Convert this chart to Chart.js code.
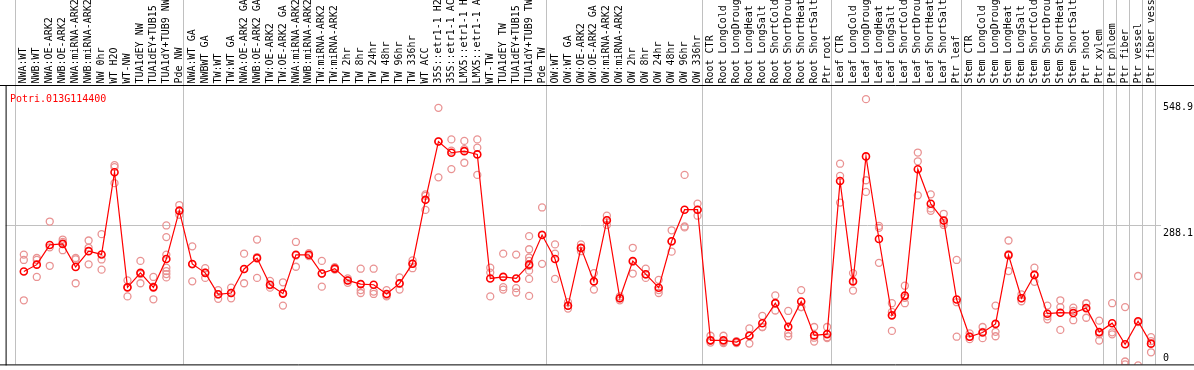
<!DOCTYPE html>
<html><head><meta charset="utf-8">
<script src="https://cdn.jsdelivr.net/npm/chart.js@4.4.1/dist/chart.umd.min.js"></script>
<style>html,body{margin:0;padding:0;background:#fff;overflow:hidden}canvas{display:block}</style>
</head><body>
<canvas id="c" width="1194" height="370"></canvas>
<script>
const geneName = 'Potri.013G114400';

const categories = [
  'NWA:WT','NWB:WT','NWA:OE-ARK2','NWB:OE-ARK2','NWA:miRNA-ARK2','NWB:miRNA-ARK2','NW 0hr','WT H2O','WT-NW',
  'TUA1dEY NW','TUA1dEY+TUB15','TUA1dY+TUB9 NW','Pde NW',
  'NWA:WT GA','NWBWT GA','TW:WT','TW:WT GA','NWA:OE-ARK2 GA','NWB:OE-ARK2 GA','TW:OE-ARK2','TW:OE-ARK2 GA',
  'NWA:miRNA-ARK2','NWB:miRNA-ARK2','TW:miRNA-ARK2','TW:miRNA-ARK2','TW 2hr','TW 8hr','TW 24hr','TW 48hr',
  'TW 96hr','TW 336hr','WT ACC','35S::etr1-1 H2','35S::etr1-1 AC','LMX5::etr1-1 H','LMX5::etr1-1 A','WT-TW',
  'TUA1dEY TW','TUA1dEY+TUB15','TUA1dY+TUB9 TW','Pde TW',
  'OW:WT','OW:WT GA','OW:OE-ARK2','OW:OE-ARK2 GA','OW:miRNA-ARK2','OW:miRNA-ARK2','OW 2hr','OW 8hr','OW 24hr',
  'OW 48hr','OW 96hr','OW 336hr',
  'Root CTR','Root LongCold','Root LongDroug','Root LongHeat','Root LongSalt','Root ShortCold','Root ShortDrou',
  'Root ShortHeat','Root ShortSalt','Ptr root',
  'Leaf CTR','Leaf LongCold','Leaf LongDroug','Leaf LongHeat','Leaf LongSalt','Leaf ShortCold','Leaf ShortDrou',
  'Leaf ShortHeat','Leaf ShortSalt','Ptr leaf',
  'Stem CTR','Stem LongCold','Stem LongDroug','Stem LongHeat','Stem LongSalt','Stem ShortCold','Stem ShortDrou',
  'Stem ShortHeat','Stem ShortSalt','Ptr shoot',
  'Ptr xylem','Ptr phloem','Ptr fiber','Ptr vessel','Ptr fiber vess'
];

const means = [
  194.1, 208.3, 248.9, 251.0, 203.6, 236.1, 229.3, 398.6, 161.6, 191.4, 161.6, 219.8, 319.4,
  209.7, 191.4, 147.3, 150.0, 199.5, 221.8, 167.0, 148.7, 228.6, 228.6, 190.0, 200.2, 175.8,
  168.3, 167.0, 148.0, 169.7, 210.3, 341.7, 461.6, 438.6, 441.9, 435.2, 179.9, 183.2, 179.9,
  208.3, 269.2,
  219.8, 123.6, 242.8, 173.8, 299.7, 139.2, 215.7, 188.7, 160.9, 256.4, 321.4, 321.4,
  52.5, 52.5, 49.1, 62.0, 87.8, 129.1, 80.3, 132.4, 62.7, 65.4,
  380.3, 173.8, 431.1, 261.1, 104.0, 144.6, 404.7, 333.6, 299.0, 136.5,
  60.0, 68.8, 86.4, 227.9, 139.2, 187.3, 107.4, 109.4, 108.8, 118.9,
  69.5, 87.8, 44.4, 91.8, 45.8
];

const replicates = [
  [229,218,135],[222,218,183],[297,244,206],[260,255,238],[222,219,170],[258,243,209],[271,219,198],
  [413,409,376],[176,162,143],[216,189,170],[183,163,137],[289,265,229,202,195,189,182],[331,319,311],
  [246,209,174],[201,192,181],[156,147,138],[161,150,139],[231,199,170],[260,224,181],[175,166,161],
  [172,150,124],[255,227,204],[232,228,226],[216,190,163],[203,200,198],[180,176,171],[200,156,150],
  [200,153,148],[156,145,143],[182,170,157],[217,210,201],[353,350,321],[531,462,388],[466,443,405],
  [463,446,418],[466,449,393],[202,192,143],[231,162,157],[229,160,151],[267,240,223,216,206,196,179,144],
  [326,270,210],
  [250,231,179],[131,124,118],[250,242,236],[191,174,157],[309,300,290],[143,139,135],[243,214,190],
  [200,188,181],[177,156,150],[279,256,235],[393,287,285],[334,321,309],
  [62,52,48],[62,49,47],[51,50,47],[77,63,46],[103,80,80],[145,129,114],[113,67,61],[156,121,121],
  [80,58,50],[80,59,57],
  [416,391,336],[191,175,155],[548.9,382,358],[288,284,212],[129,111,72],[165,140,129],[439,421,351],
  [353,324,319],[313,294,290],[218,131,60],
  [67,60,55],[80,70,57],[124,70,61],[258,230,195],[147,139,133],[202,187,173],[124,102,96],[135,121,74],
  [120,113,94],[129,128,99],
  [93,65,52],[129,69,65],[121,9,3],[185,90,1],[59,51,28]
];

// category index where each tissue/experiment group starts (plus the end)
const groupBoundaries = [0, 13, 41, 53, 63, 73, 84, 85, 86, 87, 88];
const yTickLabels = [0, 288.1, 548.9];
const yGridValues = [288.1];

const FONT = '"DejaVu Sans Mono", "Liberation Mono", monospace';
const X_MIN = -1.407, X_MAX = 87.307;
const Y_MIN = 3.05, Y_MAX = 578.0;
const SEP_SHIFT = -0.15;

const meanData = means.map((v, i) => ({x: i, y: v}));
const repData = [];
replicates.forEach((arr, i) => arr.forEach(v => repData.push({x: i, y: v})));

const framePlugin = {
  id: 'frame',
  afterDraw(chart) {
    const {ctx, chartArea: a, width} = chart;
    ctx.save();
    ctx.strokeStyle = '#000';
    ctx.lineWidth = 1;
    ctx.beginPath();
    ctx.moveTo(0, a.top + 0.5); ctx.lineTo(width, a.top + 0.5);
    ctx.moveTo(0, a.bottom + 0.5); ctx.lineTo(width, a.bottom + 0.5);
    ctx.moveTo(a.left + 0.5, a.top); ctx.lineTo(a.left + 0.5, a.bottom + 1);
    ctx.stroke();
    ctx.font = '10px ' + FONT;
    ctx.textAlign = 'left';
    ctx.textBaseline = 'alphabetic';
    ctx.fillStyle = '#ff0000';
    ctx.fillText(geneName, 10, a.top + 16.5);
    const ys = chart.scales.y;
    ctx.fillStyle = '#000';
    yTickLabels.forEach(v => {
      let py = ys.getPixelForValue(v) + 10.5;
      py = Math.min(py, a.bottom - 3);
      ctx.fillText(String(v), ys.left + 8, py);
    });
    ctx.restore();
  }
};

new Chart(document.getElementById('c'), {
  data: {
    datasets: [
      {type: 'line', label: 'mean', data: meanData, xAxisID: 'x', yAxisID: 'y',
       borderColor: '#ff0000', borderWidth: 1.2, tension: 0, fill: false,
       pointRadius: 3.5, pointBorderWidth: 1.6, pointBorderColor: '#ff0000',
       pointBackgroundColor: 'rgba(0,0,0,0)', order: 0},
      {type: 'scatter', label: 'replicates', data: repData, xAxisID: 'x', yAxisID: 'y',
       showLine: false, pointRadius: 3.5, pointBorderWidth: 1.3, pointBorderColor: '#e99393',
       pointBackgroundColor: 'rgba(0,0,0,0)', order: 1}
    ]
  },
  options: {
    responsive: false, animation: false, devicePixelRatio: 1, events: [],
    layout: {padding: {left: 1, right: 0, top: 0, bottom: 2}},
    plugins: {legend: {display: false}, tooltip: {enabled: false}, title: {display: false}},
    scales: {
      x: {
        type: 'linear', position: 'top', weight: 1, min: X_MIN, max: X_MAX,
        grid: {display: false, drawTicks: false}, border: {display: false},
        ticks: {autoSkip: false, minRotation: 90, maxRotation: 90, padding: 1.5, labelOffset: 12,
                color: '#000', font: {family: FONT, size: 10}, callback: (v) => categories[v] ?? ''},
        afterBuildTicks: (s) => { s.ticks = categories.map((_, i) => ({value: i})); },
        afterFit: (s) => { s.height = 85; }
      },
      xsep: {
        type: 'linear', position: 'top', weight: 0, min: X_MIN, max: X_MAX,
        grid: {display: true, drawOnChartArea: true, drawTicks: true, tickLength: 85,
               color: '#c0c0c0', tickColor: '#c0c0c0', lineWidth: 1},
        border: {display: false},
        ticks: {display: false},
        afterBuildTicks: (s) => { s.ticks = groupBoundaries.map(b => ({value: b - 0.5 + SEP_SHIFT})); },
        afterFit: (s) => { s.height = 0; }
      },
      y: {
        type: 'linear', position: 'right', min: Y_MIN, max: Y_MAX,
        grid: {color: '#c0c0c0', tickColor: '#c0c0c0', tickLength: 6, drawTicks: true, lineWidth: 1},
        border: {display: false},
        ticks: {display: false},
        afterBuildTicks: (s) => { s.ticks = yGridValues.map(v => ({value: v})); },
        afterFit: (s) => { s.width = 39; }
      }
    }
  },
  plugins: [framePlugin]
});
</script>
</body></html>
